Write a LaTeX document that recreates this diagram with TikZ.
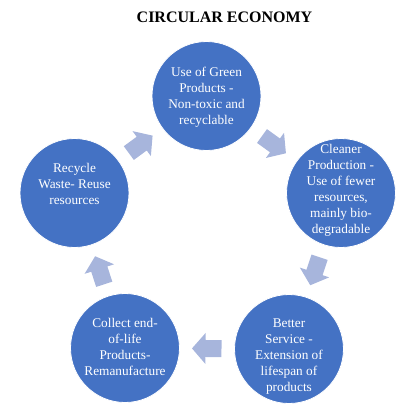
\documentclass[tikz,border=0pt]{standalone}
\usepackage{fontspec}
\setmainfont{Liberation Serif}
\usetikzlibrary{calc}
\definecolor{circblue}{HTML}{4472C4}
\definecolor{arrowblue}{HTML}{A7B5DC}
\tikzset{
  circ/.style={circle, fill=circblue, draw=white, line width=0.8pt, minimum size=109pt, inner sep=0pt},
  txt/.style={text=white, align=center, font=\fontsize{13.3}{16}\selectfont, inner sep=0pt},
  ttl/.style={font=\fontsize{16}{19}\selectfont\bfseries, inner sep=0pt},
  arrowshape/.style={fill=arrowblue}
}
\begin{document}
\begin{tikzpicture}[x=1pt,y=-1pt]
\useasboundingbox (0,0) rectangle (408,413);
\node[ttl] (title) at (224.5,17) {CIRCULAR ECONOMY};
\node[circ] (n1) at (206.5,96) {};
\node[circ] (n2) at (341,193) {};
\node[circ] (n3) at (289,349) {};
\node[circ] (n4) at (125,348) {};
\node[circ] (n5) at (74.5,193) {};
\node[txt] (t1) at (206.5,97) {Use of Green\\Products -\\Non-toxic and\\recyclable};
\node[txt] (t2) at (341,190) {Cleaner\\Production -\\Use of fewer\\resources,\\mainly bio-\\degradable};
\node[txt] (t3) at (289,357) {Better\\Service -\\Extension of\\lifespan of\\products};
\node[txt] (t4) at (125,347) {Collect end-\\of-life\\Products-\\Remanufacture};
\node[txt] (t5) at (74.5,184) {Recycle\\Waste- Reuse\\resources};
\foreach \a/\b in {n1/n2,n2/n3,n3/n4,n4/n5,n5/n1}{
  \pgfmathanglebetweenpoints{\pgfpointanchor{\a}{center}}{\pgfpointanchor{\b}{center}}
  \let\ang\pgfmathresult
  \begin{scope}[shift={($(\a)!0.5!(\b)$)}, rotate=\ang]
    \fill[arrowshape] (-14.5pt,-8.5pt) -- (1.5pt,-8.5pt) -- (1.5pt,-15.5pt) -- (15pt,0pt)
      -- (1.5pt,15.5pt) -- (1.5pt,8.5pt) -- (-14.5pt,8.5pt) -- cycle;
  \end{scope}
}
\end{tikzpicture}
\end{document}
